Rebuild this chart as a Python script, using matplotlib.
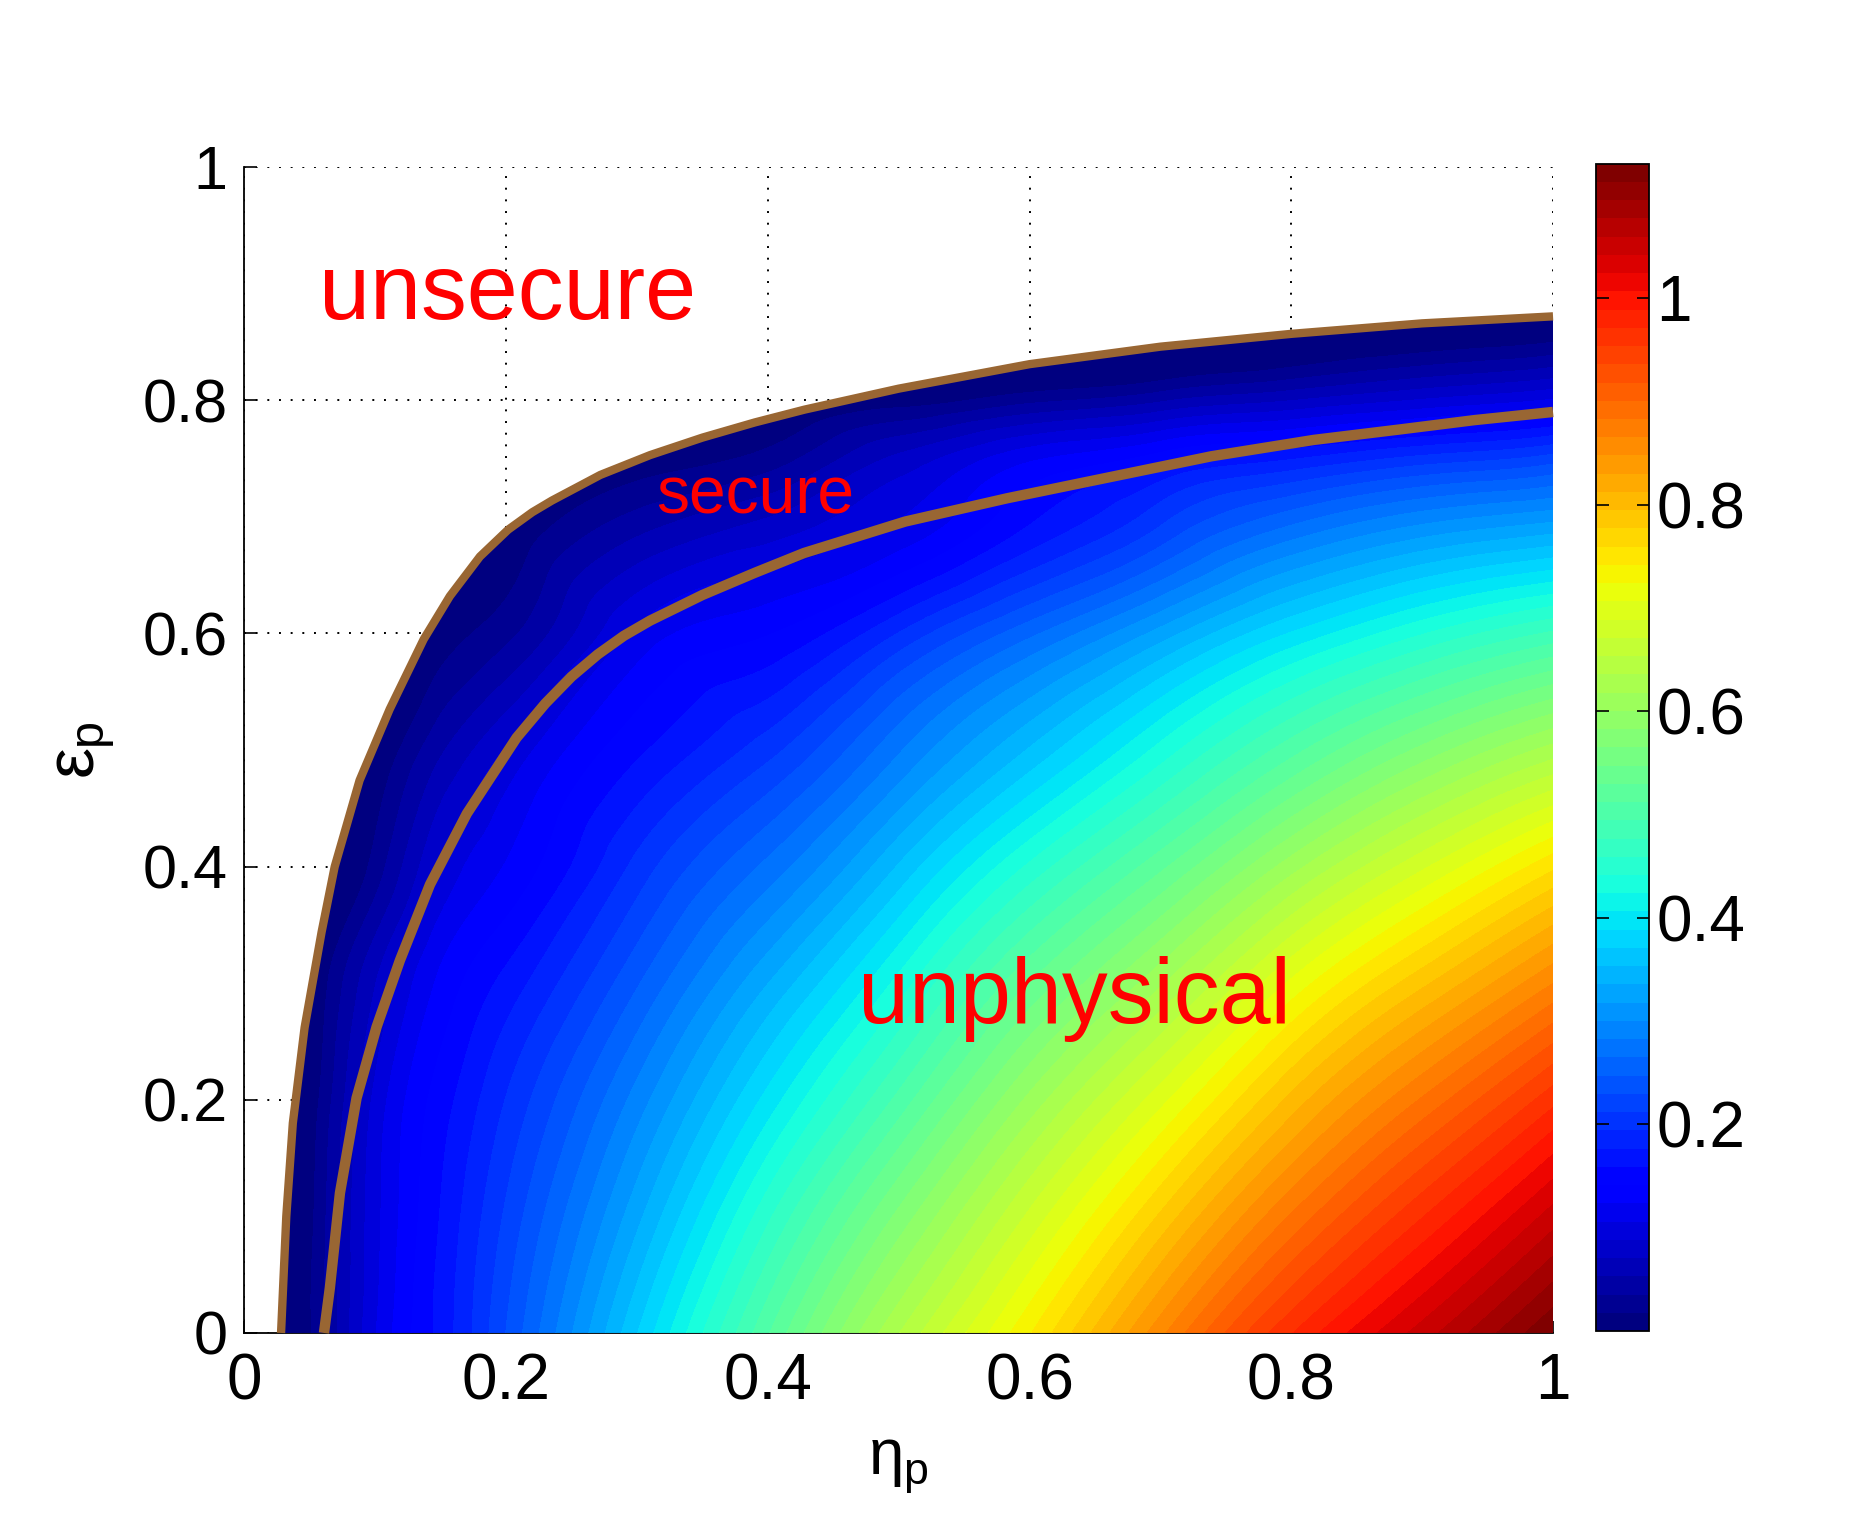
import numpy as np
import matplotlib
matplotlib.use("Agg")
import matplotlib.pyplot as plt
import matplotlib.tri as mtri
from matplotlib import rcParams
from matplotlib.colors import Normalize
from matplotlib.patches import Polygon

# --- Fonts ---
FONT = "Liberation Sans"
rcParams["font.family"] = [FONT, "DejaVu Sans"]
rcParams["mathtext.fontset"] = "custom"
rcParams["mathtext.rm"] = FONT
rcParams["mathtext.it"] = FONT
rcParams["mathtext.bf"] = FONT

# --- Colour field (rows = eps_p, columns = eta_p) ---
eta_grid = [0.0, 0.05, 0.1, 0.15, 0.2, 0.3, 0.4, 0.5, 0.6, 0.7, 0.8, 0.9, 1.0]
eps_grid = [0.0, 0.1, 0.2, 0.3, 0.4, 0.5, 0.6, 0.7, 0.75, 0.8, 0.9]

row_eps_000 = [-0.06, 0.015, 0.105, 0.165, 0.23, 0.37, 0.51, 0.635, 0.74, 0.86, 0.97, 1.05, 1.13]
row_eps_010 = [-0.07, 0.012, 0.10, 0.16, 0.215, 0.33, 0.455, 0.57, 0.675, 0.78, 0.885, 0.97, 1.05]
row_eps_020 = [-0.08, 0.005, 0.093, 0.15, 0.195, 0.29, 0.395, 0.50, 0.605, 0.70, 0.80, 0.885, 0.965]
row_eps_030 = [-0.10, -0.005, 0.07, 0.128, 0.165, 0.245, 0.335, 0.43, 0.53, 0.615, 0.71, 0.79, 0.865]
row_eps_040 = [-0.13, -0.04, 0.025, 0.09, 0.125, 0.20, 0.27, 0.355, 0.445, 0.525, 0.61, 0.685, 0.755]
row_eps_050 = [-0.16, -0.08, -0.005, 0.05, 0.09, 0.155, 0.205, 0.28, 0.355, 0.43, 0.505, 0.57, 0.625]
row_eps_060 = [-0.20, -0.12, -0.05, 0.005, 0.03, 0.11, 0.14, 0.195, 0.26, 0.325, 0.39, 0.44, 0.48]
row_eps_070 = [-0.24, -0.16, -0.09, -0.04, -0.005, 0.04, 0.07, 0.105, 0.155, 0.205, 0.255, 0.29, 0.31]
row_eps_075 = [-0.26, -0.18, -0.112, -0.068, -0.035, 0.003, 0.025, 0.075, 0.12, 0.15, 0.175, 0.20, 0.22]
row_eps_080 = [-0.28, -0.20, -0.135, -0.095, -0.065, -0.035, -0.01, 0.008, 0.03, 0.05, 0.07, 0.09, 0.108]
row_eps_090 = [-0.32, -0.24, -0.18, -0.15, -0.125, -0.10, -0.08, -0.07, -0.07, -0.065, -0.06, -0.055, -0.05]

# --- Boundary curves ---
upper_eta = [0.028, 0.032, 0.037, 0.046, 0.059, 0.069, 0.088, 0.111, 0.137, 0.157,
             0.18, 0.2015, 0.22, 0.235, 0.272, 0.31, 0.350, 0.39, 0.428, 0.5, 0.6, 0.7,
             0.8, 0.9, 1.0]
upper_eps = [0.0, 0.10, 0.18, 0.262, 0.344, 0.40, 0.474, 0.535, 0.595, 0.632,
             0.666, 0.689, 0.704, 0.714, 0.736, 0.753, 0.768, 0.781, 0.792, 0.810, 0.831,
             0.846, 0.857, 0.866, 0.872]

lower_eta = [0.0608, 0.0653, 0.073, 0.0857, 0.101, 0.1188, 0.1418, 0.170, 0.208, 0.23,
             0.25, 0.27, 0.29, 0.31, 0.35, 0.39, 0.4276, 0.505, 0.583, 0.661, 0.739, 0.817,
             0.883, 0.94, 1.0]
lower_eps = [0.0, 0.0387, 0.120, 0.2015, 0.2625, 0.3195, 0.3846, 0.4455, 0.5106, 0.540,
             0.563, 0.582, 0.598, 0.611, 0.633, 0.652, 0.669, 0.696, 0.716, 0.734, 0.752,
             0.766, 0.775, 0.783, 0.790]

axis_ticks = [0, 0.2, 0.4, 0.6, 0.8, 1.0]
axis_ticklabels = ["0", "0.2", "0.4", "0.6", "0.8", "1"]
cbar_ticks = [0.2, 0.4, 0.6, 0.8, 1.0]
cbar_ticklabels = ["0.2", "0.4", "0.6", "0.8", "1"]
cbar_min, cbar_max = 0.0, 1.13

BROWN = "#996633"


def make_plot():
    fig = plt.figure(figsize=(18.7, 15.18), dpi=100)
    ax = fig.add_axes([0.1307, 0.1219, 0.6998, 0.768])
    cax = fig.add_axes([0.8535, 0.1232, 0.0285, 0.769])

    field = np.array([row_eps_000, row_eps_010, row_eps_020, row_eps_030, row_eps_040,
                      row_eps_050, row_eps_060, row_eps_070, row_eps_075, row_eps_080,
                      row_eps_090])
    E, P = np.meshgrid(eta_grid, eps_grid)

    # smooth the coarse table with matplotlib's own tri refiner
    tri = mtri.Triangulation(E.ravel(), P.ravel())
    tri_fine, field_fine = mtri.UniformTriRefiner(tri).refine_field(field.ravel(), subdiv=4)

    cmap = matplotlib.colormaps["jet"].resampled(64)
    levels = np.linspace(cbar_min, cbar_max, 65)
    cs = ax.tricontourf(tri_fine, field_fine, levels=levels, cmap=cmap, extend="both",
                        zorder=3, antialiased=False)

    # only the part below the upper curve is coloured
    clip = Polygon(np.column_stack([upper_eta + [1.0], upper_eps + [0.0]]),
                   closed=True, transform=ax.transData)
    cs.set_clip_path(clip)

    ax.plot(upper_eta, upper_eps, color=BROWN, lw=6, solid_capstyle="butt",
            solid_joinstyle="round", zorder=4, clip_on=False)
    ax.plot(lower_eta, lower_eps, color=BROWN, lw=7.5, solid_capstyle="butt",
            solid_joinstyle="round", zorder=4, clip_on=False)

    # region names
    ax.text(0.057, 0.870, "unsecure", color="red", fontsize=66, zorder=5)
    ax.text(0.3145, 0.703, "secure", color="red", fontsize=47.5, zorder=5)
    ax.text(0.469, 0.2656, "unphysical", color="red", fontsize=66, zorder=5)

    ax.set_xlim(0, 1)
    ax.set_ylim(0, 1)
    ax.set_xticks(axis_ticks)
    ax.set_xticklabels(axis_ticklabels)
    ax.set_yticks(axis_ticks)
    ax.set_yticklabels(axis_ticklabels)
    ax.tick_params(axis="y", direction="in", length=9, width=1.2, labelsize=44, pad=12)
    ax.tick_params(axis="x", direction="in", length=9, width=1.2, labelsize=46, pad=14)

    ax.set_axisbelow(True)
    ax.grid(True, color="k", lw=1.4, linestyle=(0, (1, 5)))
    ax.spines["top"].set_visible(False)
    ax.spines["right"].set_visible(False)
    ax.spines["left"].set_linewidth(1.3)
    ax.spines["bottom"].set_linewidth(1.3)

    ax.set_xlabel(r"$\eta_\mathrm{p}$", fontsize=46)
    ax.xaxis.set_label_coords(0.5, -0.088)
    ax.set_ylabel(r"$\varepsilon_\mathrm{p}$", fontsize=50)
    ax.yaxis.set_label_coords(-0.097, 0.5)

    sm = matplotlib.cm.ScalarMappable(norm=Normalize(cbar_min, cbar_max), cmap=cmap)
    cb = fig.colorbar(sm, cax=cax, ticks=cbar_ticks)
    cb.ax.set_yticklabels(cbar_ticklabels)
    cb.ax.tick_params(direction="in", left=True, right=True, length=9, width=1.2,
                      labelsize=46, pad=5)
    cb.outline.set_linewidth(1.3)

    fig.savefig("out.png", dpi=100)


if __name__ == "__main__":
    make_plot()
